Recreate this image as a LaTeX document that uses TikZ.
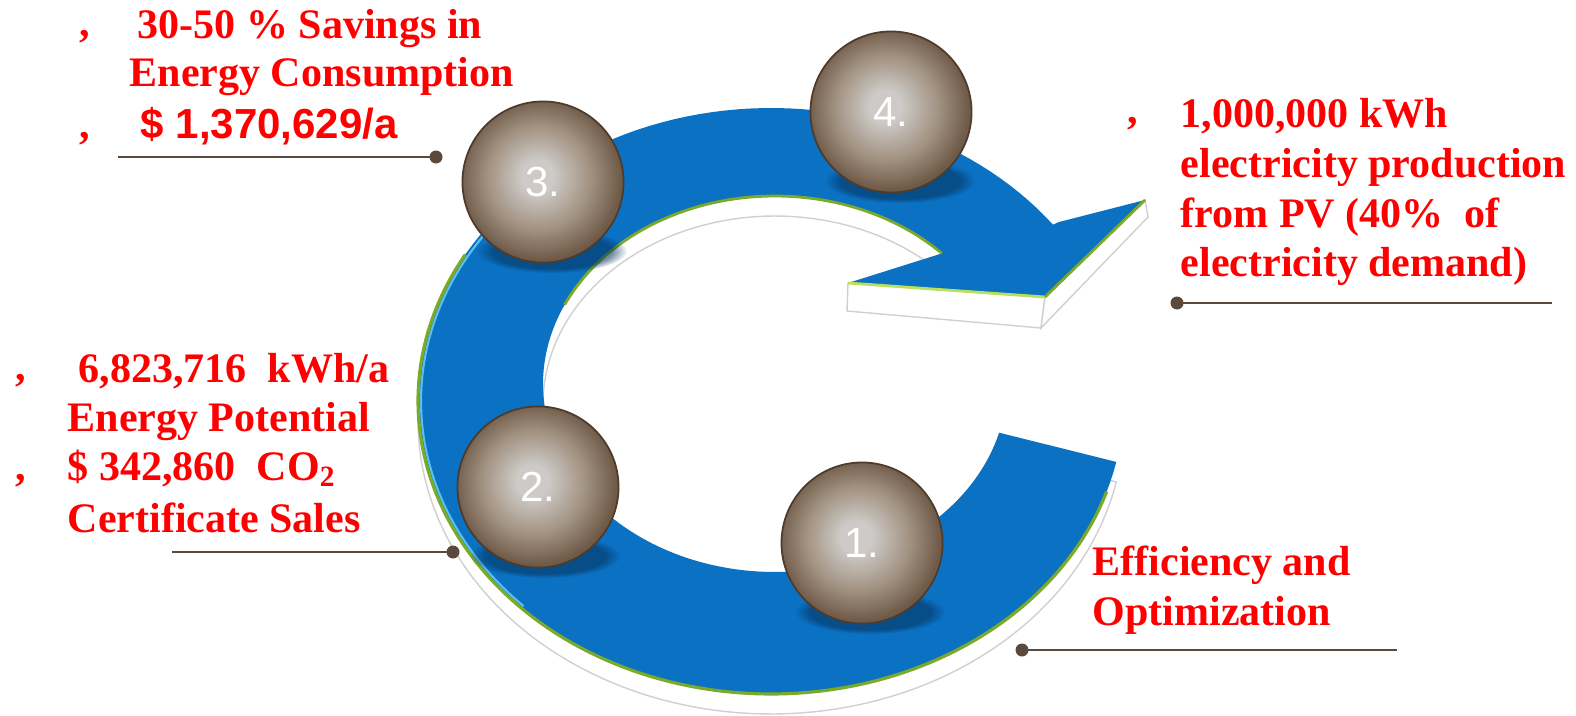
\documentclass[tikz,border=0pt]{standalone}
\usepackage{fontspec}
\setmainfont{Liberation Serif}
\setsansfont{Liberation Sans}
\usetikzlibrary{fadings}

\definecolor{ringblue}{HTML}{0A71C3}
\definecolor{rimgreen}{HTML}{7BAA2A}
\definecolor{rimlight}{HTML}{B8E05A}
\definecolor{rimcyan}{HTML}{5CC0EE}
\definecolor{rimgray}{HTML}{D0D0D0}
\definecolor{ballhi}{HTML}{CDCAC7}
\definecolor{ballmid}{HTML}{A29281}
\definecolor{ballrim}{HTML}{705B49}
\definecolor{ballline}{HTML}{4E3B2B}
\definecolor{leader}{HTML}{5A4A3D}
\definecolor{labelred}{HTML}{FF0000}
\definecolor{shadowblue}{HTML}{06325A}

% shaded sphere used for the numbered steps
\pgfdeclareradialshading{ballshade}{\pgfpoint{-2bp}{2bp}}{%
  color(0bp)=(ballhi); color(5bp)=(ballhi); color(16bp)=(ballmid);
  color(25bp)=(ballrim); color(50bp)=(ballrim)}

\tikzset{
  lbl/.style={font=\fontsize{11.95}{14}\selectfont\bfseries, text=labelred,
              inner sep=0pt, anchor=base west},
  lblsans/.style={lbl, font=\fontsize{11.95}{14}\selectfont\sffamily\bfseries},
  ball/.style={circle, draw=ballline, line width=0.5pt, shading=ballshade,
               minimum size=1.61cm, inner sep=0pt, text=white,
               font=\fontsize{11.95}{14}\selectfont\sffamily},
  leaderline/.style={draw=leader, line width=0.6pt},
  leaderdot/.style={fill=leader},
  sideface/.style={fill=white, draw=rimgray, line width=0.4pt},
  ballshadow/.style={fill=shadowblue, fill opacity=0.55,
                     path fading=circle with fuzzy edge 20 percent},
}

\begin{document}
\begin{tikzpicture}[x=0.01cm, y=-0.01cm]
\useasboundingbox (0,0) rectangle (1576,715);

% --- side wall of the curved band (seen below the top face)
\filldraw[sideface, shift={(0,20)}]
  plot[domain=12:323, samples=150, variable=\t] ({771+353*cos(\t)},{401+293*sin(\t)})
  -- plot[domain=316:15, samples=150, variable=\t] ({775+232*cos(\t)},{384+188*sin(\t)})
  -- cycle;

% --- side faces of the arrow head
\filldraw[sideface] (848,283) -- (1045,297) -- (1041,328) -- (847,311) -- cycle;
\filldraw[sideface] (1045,297) -- (1145,200) -- (1148,217) -- (1041,328) -- cycle;

% --- top face of the circular arrow
\fill[ringblue]
  plot[domain=12:323, samples=150, variable=\t] ({771+353*cos(\t)},{401+293*sin(\t)})
  -- (1059,222) -- (1145,200) -- (1045,297) -- (848,283)
  -- plot[domain=316:15, samples=150, variable=\t] ({775+232*cos(\t)},{384+188*sin(\t)})
  -- cycle;

% --- edge highlights
\draw[rimcyan, line width=0.6pt]
  plot[domain=135:235, samples=80, variable=\t] ({771+350*cos(\t)},{401+290*sin(\t)});
\draw[rimgreen, line width=0.9pt]
  plot[domain=18:210, samples=120, variable=\t] ({771+353*cos(\t)},{401+293*sin(\t)});
\draw[rimgreen, line width=0.8pt]
  plot[domain=205:316, samples=100, variable=\t] ({775+232*cos(\t)},{384+188*sin(\t)});
\draw[rimlight, line width=0.8pt] (848,283) -- (1045,297);
\draw[rimgreen, line width=0.8pt] (1045,297) -- (1145,200);

% --- soft shadows below the spheres
\fill[ballshadow] (870,612) ellipse [x radius=75, y radius=22];
\fill[ballshadow] (545,556) ellipse [x radius=75, y radius=22];
\fill[ballshadow] (552,251) ellipse [x radius=75, y radius=22];
\fill[ballshadow] (900,181) ellipse [x radius=75, y radius=22];

% --- numbered spheres
\node[ball] (ball1) at (862,543) {1.};
\node[ball] (ball2) at (538,487) {2.};
\node[ball] (ball3) at (543,182) {3.};
\node[ball] (ball4) at (891,112) {4.};

% --- label: savings
\node[lbl] (tA0) at (79,36) {,};
\node[lbl] (tA1) at (137,38) {30-50 \% Savings in};
\node[lbl] (tA2) at (129,87) {Energy Consumption};
\node[lbl] (tA3) at (79,138) {,};
\node[lblsans] (tA4) at (140,138) {\$ 1,370,629/a};
\coordinate (endA) at (118,157);
\coordinate (dotA) at (436,157);
\draw[leaderline] (endA) -- (dotA);
\fill[leaderdot] (dotA) circle [radius=6.5];

% --- label: energy potential
\node[lbl] (tB0) at (15,380) {,};
\node[lbl] (tB1) at (78,382) {6,823,716\ \ kWh/a};
\node[lbl] (tB2) at (67,431) {Energy Potential};
\node[lbl] (tB3) at (15,480) {,};
\node[lbl] (tB4) at (67,480) {\$ 342,860\ \ CO\textsubscript{2}};
\node[lbl] (tB5) at (67,532) {Certificate Sales};
\coordinate (endB) at (172,552);
\coordinate (dotB) at (453,552);
\draw[leaderline] (endB) -- (dotB);
\fill[leaderdot] (dotB) circle [radius=6.5];

% --- label: PV production
\node[lbl] (tC0) at (1127,123) {,};
\node[lbl] (tC1) at (1180,127) {1,000,000 kWh};
\node[lbl] (tC2) at (1180,177) {electricity production};
\node[lbl] (tC3) at (1180,227) {from PV (40\%\ \ of};
\node[lbl] (tC4) at (1180,276) {electricity demand)};
\coordinate (dotC) at (1177,303);
\coordinate (endC) at (1552,303);
\draw[leaderline] (dotC) -- (endC);
\fill[leaderdot] (dotC) circle [radius=6.5];

% --- label: efficiency
\node[lbl] (tD1) at (1092,575) {Efficiency and};
\node[lbl] (tD2) at (1092,625) {Optimization};
\coordinate (dotD) at (1022,650);
\coordinate (endD) at (1397,650);
\draw[leaderline] (dotD) -- (endD);
\fill[leaderdot] (dotD) circle [radius=6.5];
\end{tikzpicture}
\end{document}
